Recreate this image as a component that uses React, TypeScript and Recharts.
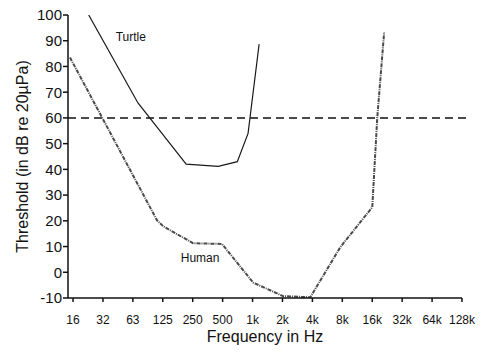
import React from 'react';
import { LineChart, Line, XAxis, YAxis, ReferenceLine, ReferenceDot } from 'recharts';

const tickHz = [16, 32, 64, 128, 256, 512, 1024, 2048, 4096, 8192, 16384, 32768, 65536, 131072];
const tickLabels = ['16', '32', '63', '125', '250', '500', '1k', '2k', '4k', '8k', '16k', '32k', '64k', '128k'];
const yTicks = [-10, 0, 10, 20, 30, 40, 50, 60, 70, 80, 90, 100];

const turtleHz = [23, 72, 220, 462, 719, 923, 1192];
const turtleDb = [100, 65.8, 42, 41.2, 43, 54, 88.7];

const humanHz = [14.9, 112, 129, 258, 505, 1038, 2080, 3900, 7800, 16400, 18400, 21600];
const humanDb = [83.5, 20.2, 17.9, 11.3, 11, -4, -9.3, -9.7, 9.7, 25.3, 60, 93.4];

const cutoffDb = 60;

const turtleData = turtleHz.map((hz, i) => ({ hz, db: turtleDb[i] }));
const humanData = humanHz.map((hz, i) => ({ hz, db: humanDb[i] }));

const font = 'Liberation Sans, Arial, sans-serif';

const YTitle = (props: any) => {
  const { viewBox } = props;
  const cx = viewBox.x + 22;
  const cy = viewBox.y + viewBox.height / 2;
  return (
    <text
      x={cx}
      y={cy}
      transform={`rotate(-90 ${cx} ${cy})`}
      textAnchor="middle"
      dominantBaseline="central"
      fontSize={16}
      fontFamily={font}
      fill="#111"
    >
      Threshold (in dB re 20µPa)
    </text>
  );
};

const XTitle = (props: any) => {
  const { viewBox } = props;
  return (
    <text
      x={viewBox.x + viewBox.width / 2}
      y={viewBox.y + 44}
      textAnchor="middle"
      fontSize={16}
      fontFamily={font}
      fill="#111"
    >
      Frequency in Hz
    </text>
  );
};

export default function App() {
  return (
    <div style={{ position: 'absolute', left: 0, top: 0, background: '#fff' }}>
      <LineChart width={496} height={354} margin={{ top: 15, right: 34, left: 0, bottom: 0 }}>
        <XAxis
          type="number"
          dataKey="hz"
          scale="log"
          domain={[14.24, 131072]}
          allowDataOverflow
          ticks={tickHz}
          tickFormatter={(v: number) => tickLabels[tickHz.indexOf(v)] ?? ''}
          interval={0}
          height={56}
          tickSize={4}
          tickMargin={13}
          stroke="#111"
          strokeWidth={1.5}
          tick={{ fontSize: 12, fontFamily: font, fill: '#111' }}
          label={<XTitle />}
        />
        <YAxis
          type="number"
          domain={[-10, 100]}
          ticks={yTicks}
          interval={0}
          width={68}
          tickSize={5}
          tickMargin={1}
          stroke="#111"
          strokeWidth={1.5}
          allowDataOverflow
          tick={{ fontSize: 15, fontFamily: font, fill: '#111' }}
          label={<YTitle />}
        />
        <ReferenceLine
          segment={[
            { x: 14.24, y: cutoffDb },
            { x: 145000, y: cutoffDb },
          ]}
          ifOverflow="visible"
          stroke="#111"
          strokeWidth={1.5}
          strokeDasharray="8 5"
        />
        <Line
          data={turtleData}
          dataKey="db"
          type="linear"
          stroke="#1a1a1a"
          strokeWidth={1.2}
          dot={false}
          isAnimationActive={false}
        />
        <Line
          data={humanData}
          dataKey="db"
          type="linear"
          stroke="#4a4a4a"
          strokeWidth={2}
          strokeDasharray="4 1 1 1"
          dot={false}
          isAnimationActive={false}
        />
        <ReferenceDot
          x={61}
          y={91.4}
          r={0}
          label={{ value: 'Turtle', fontSize: 12, fontFamily: font, fill: '#111' }}
        />
        <ReferenceDot
          x={304}
          y={5.8}
          r={0}
          label={{ value: 'Human', fontSize: 12, fontFamily: font, fill: '#111' }}
        />
      </LineChart>
    </div>
  );
}
